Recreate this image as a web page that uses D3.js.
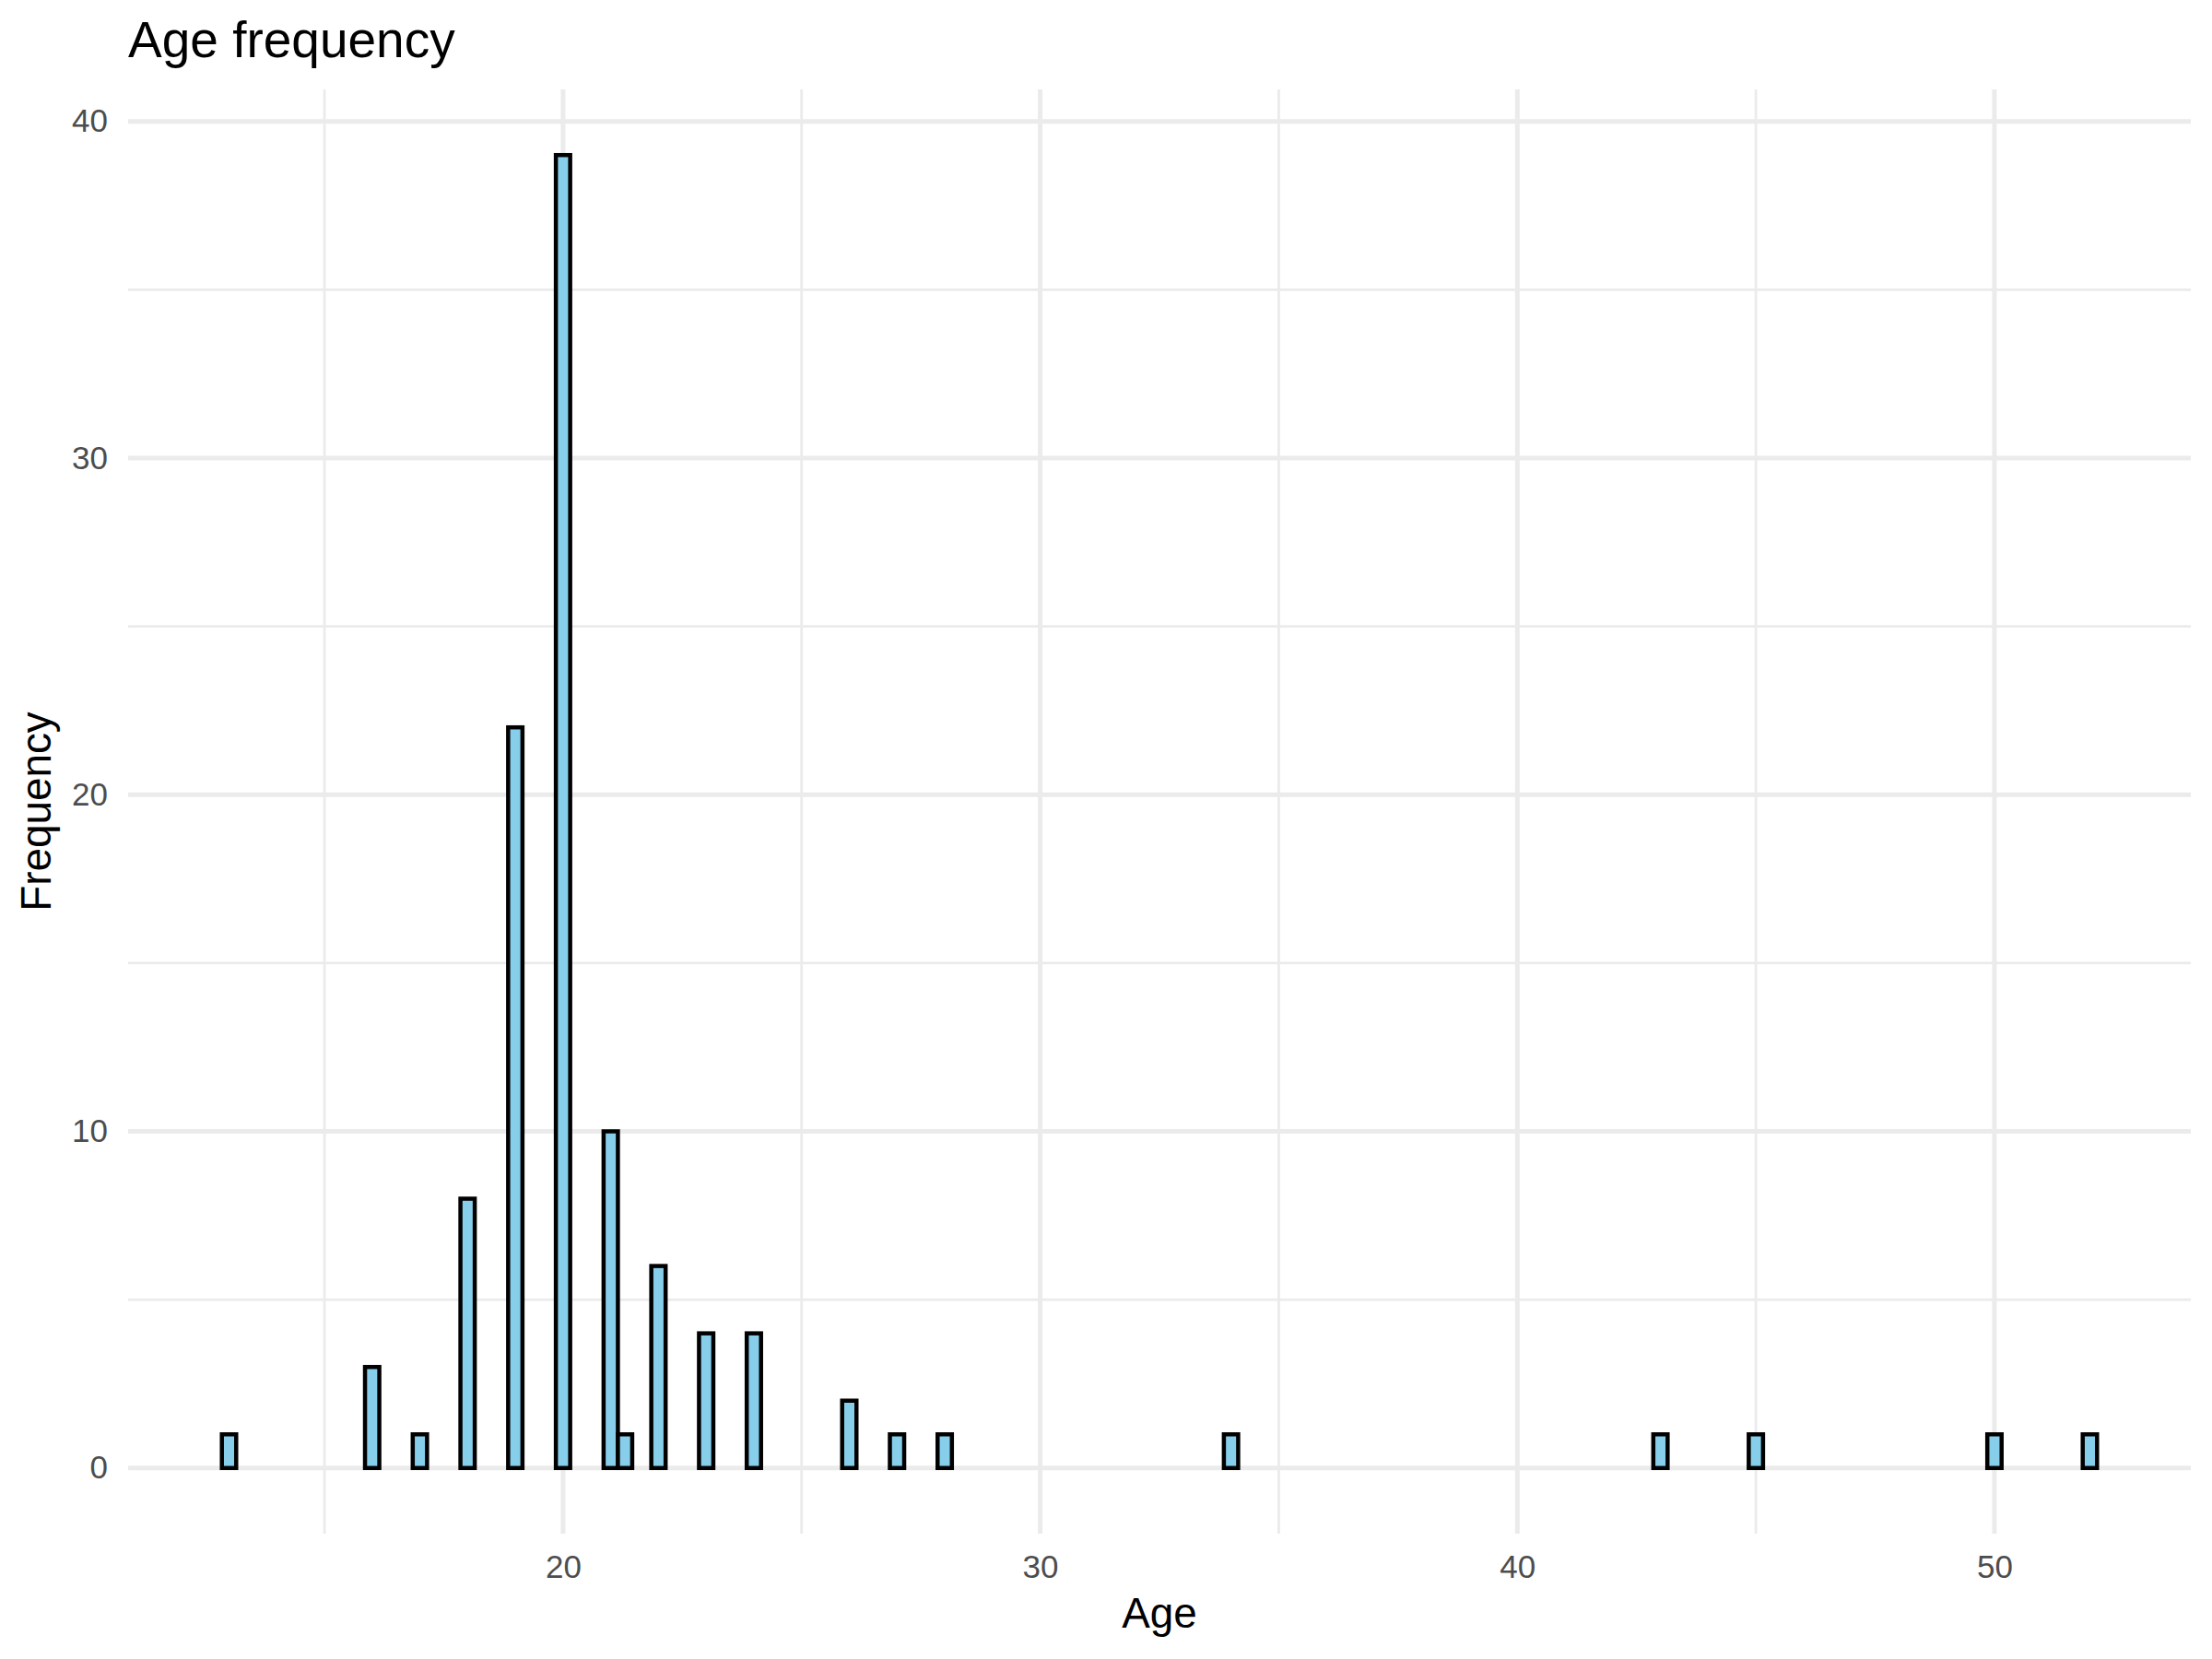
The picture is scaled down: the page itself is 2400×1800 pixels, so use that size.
<!DOCTYPE html>
<html>
<head>
<meta charset="utf-8">
<script src="https://cdn.jsdelivr.net/npm/d3@7"></script>
<style>
  html, body { margin: 0; padding: 0; background: #ffffff; }
  svg { display: block; }
  text { font-family: "Liberation Sans", Arial, Helvetica, sans-serif; }
</style>
</head>
<body>
<svg id="chart" width="2400" height="1800"></svg>
<script>
// ---- data (histogram bins) ----
const binCenters = [13, 16, 17, 18, 19, 20, 21, 21.3, 22, 23, 24, 26, 27, 28, 34, 43, 45, 50, 52];
const counts     = [1,  3,  1,  8,  22, 39, 10, 1,    6,  4,  4,  2,  1,  1,  1,  1,  1,  1,  1];
const binWidth = 0.3;
const xMajorTicks = [20, 30, 40, 50];
const xMinorTicks = [15, 25, 35, 45];
const yMajorTicks = [0, 10, 20, 30, 40];
const yMinorTicks = [5, 15, 25, 35];
const titleText = "Age frequency";
const xTitle = "Age";
const yTitle = "Frequency";

// ---- layout ----
const W = 2400, H = 1800;
const panel = { left: 139, right: 2377, top: 97, bottom: 1664 };

const svg = d3.select("#chart");

// scales with ggplot-like 5% expansion
const xLo = d3.min(binCenters) - binWidth / 2;
const xHi = d3.max(binCenters) + binWidth / 2;
const xPad = (xHi - xLo) * 0.05;
const x = d3.scaleLinear().domain([xLo - xPad, xHi + xPad]).range([panel.left, panel.right]);

const yMax = d3.max(counts);
const yPad = yMax * 0.05;
const y = d3.scaleLinear().domain([-yPad, yMax + yPad]).range([panel.bottom, panel.top]);

// ---- grid ----
const grid = svg.append("g");
grid.selectAll("line.ymin").data(yMinorTicks).join("line")
  .attr("x1", panel.left).attr("x2", panel.right)
  .attr("y1", d => y(d)).attr("y2", d => y(d))
  .attr("stroke", "#EBEBEB").attr("stroke-width", 2.8);
grid.selectAll("line.xmin").data(xMinorTicks).join("line")
  .attr("y1", panel.top).attr("y2", panel.bottom)
  .attr("x1", d => x(d)).attr("x2", d => x(d))
  .attr("stroke", "#EBEBEB").attr("stroke-width", 2.8);
grid.selectAll("line.ymaj").data(yMajorTicks).join("line")
  .attr("x1", panel.left).attr("x2", panel.right)
  .attr("y1", d => y(d)).attr("y2", d => y(d))
  .attr("stroke", "#EBEBEB").attr("stroke-width", 5);
grid.selectAll("line.xmaj").data(xMajorTicks).join("line")
  .attr("y1", panel.top).attr("y2", panel.bottom)
  .attr("x1", d => x(d)).attr("x2", d => x(d))
  .attr("stroke", "#EBEBEB").attr("stroke-width", 5);

// ---- bars ----
const bins = binCenters.map((c, i) => ({ c, n: counts[i] }));
svg.append("g").selectAll("rect").data(bins).join("rect")
  .attr("x", d => x(d.c - binWidth / 2))
  .attr("width", d => x(d.c + binWidth / 2) - x(d.c - binWidth / 2))
  .attr("y", d => y(d.n))
  .attr("height", d => y(0) - y(d.n))
  .attr("fill", "#87CEEB")
  .attr("stroke", "#000000")
  .attr("stroke-width", 4.5);

// ---- axes (labels only, theme_minimal) ----
const xAxis = svg.append("g").attr("transform", `translate(0,${panel.bottom})`)
  .call(d3.axisBottom(x).tickValues(xMajorTicks).tickSize(0).tickPadding(23).tickFormat(d3.format("d")));
xAxis.select(".domain").remove();
xAxis.selectAll("text").attr("font-size", 35).attr("fill", "#4D4D4D")
  .attr("font-family", "'Liberation Sans', Arial, sans-serif");

const yAxis = svg.append("g").attr("transform", `translate(${panel.left},0)`)
  .call(d3.axisLeft(y).tickValues(yMajorTicks).tickSize(0).tickPadding(22).tickFormat(d3.format("d")));
yAxis.select(".domain").remove();
yAxis.selectAll("text").attr("font-size", 35).attr("fill", "#4D4D4D")
  .attr("font-family", "'Liberation Sans', Arial, sans-serif");

// ---- titles ----
svg.append("text")
  .attr("x", panel.left).attr("y", 62)
  .attr("font-size", 55).attr("fill", "#000000")
  .text(titleText);

svg.append("text")
  .attr("x", (panel.left + panel.right) / 2).attr("y", 1766)
  .attr("text-anchor", "middle")
  .attr("font-size", 45.8).attr("fill", "#000000")
  .text(xTitle);

svg.append("text")
  .attr("transform", `translate(55,${(panel.top + panel.bottom) / 2}) rotate(-90)`)
  .attr("text-anchor", "middle")
  .attr("font-size", 45.8).attr("fill", "#000000")
  .text(yTitle);
</script>
</body>
</html>
